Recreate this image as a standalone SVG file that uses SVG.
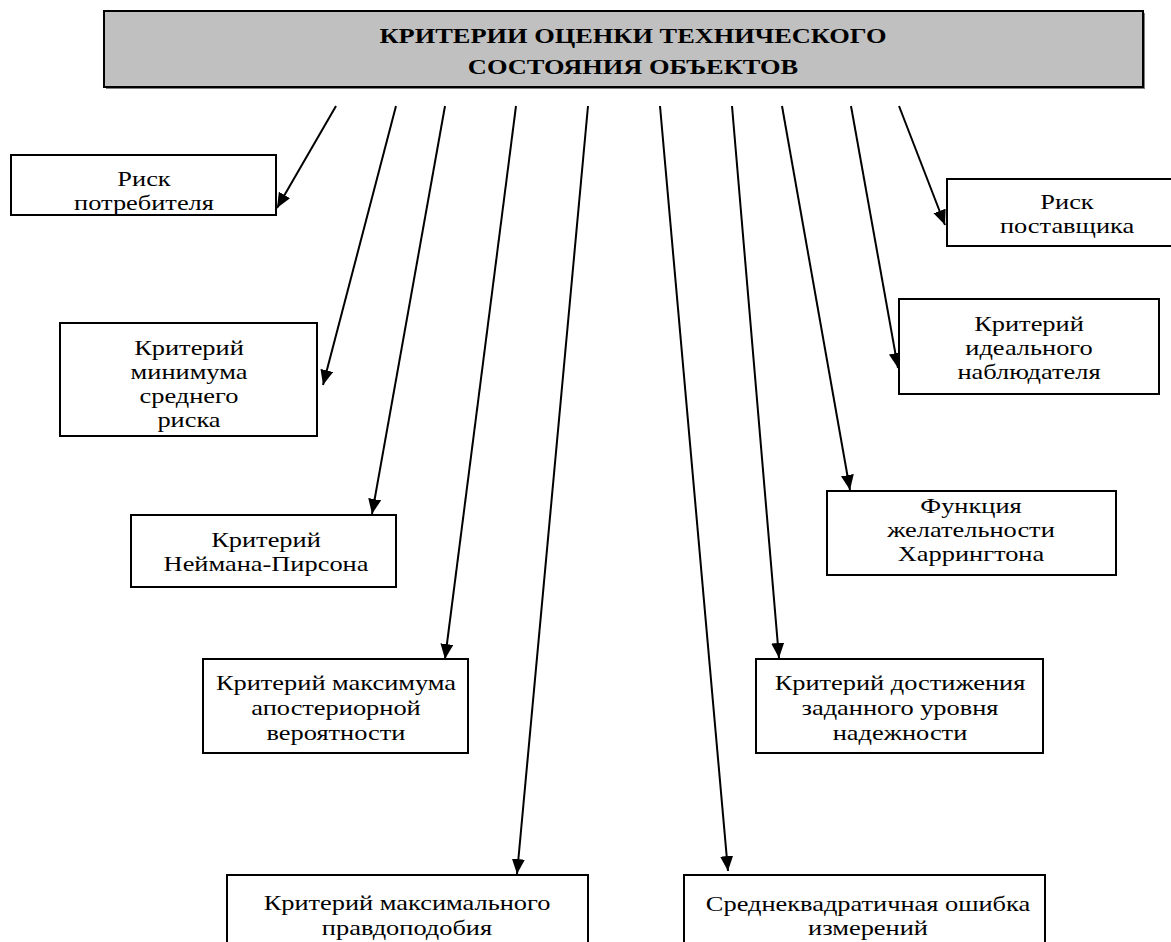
<svg xmlns="http://www.w3.org/2000/svg" width="1171" height="942" viewBox="0 0 1171 942">
<style>
.box{fill:#fff;stroke:#000;stroke-width:2}
.t{font-family:"Liberation Serif","Times New Roman",serif;font-size:22px;fill:#000;text-anchor:middle}
.h{font-family:"Liberation Serif","Times New Roman",serif;font-size:22px;font-weight:bold;fill:#000;text-anchor:middle}
.c{stroke:#000;stroke-width:2;fill:none;marker-end:url(#ah)}
</style>
<defs>
<marker id="ah" markerUnits="userSpaceOnUse" markerWidth="16" markerHeight="14" refX="15" refY="6.5" orient="auto">
<path d="M0,0 L15,6.5 L0,13 z" fill="#000"/>
</marker>
</defs>
<rect width="1171" height="942" fill="#fff"/>

<g id="header">
<rect x="106" y="13" width="1039" height="76" fill="#808080"/>
<rect x="104" y="11" width="1039" height="76" fill="#c0c0c0" stroke="#000" stroke-width="2"/>
<g transform="translate(633 0) scale(1.2 1)">
<text class="h" x="0" y="43">КРИТЕРИИ ОЦЕНКИ ТЕХНИЧЕСКОГО</text>
<text class="h" x="0" y="74">СОСТОЯНИЯ ОБЪЕКТОВ</text>
</g>
</g>

<g id="connectors">
<line class="c" x1="336" y1="106" x2="277" y2="208"/>
<line class="c" x1="396" y1="106" x2="323" y2="385"/>
<line class="c" x1="445" y1="106" x2="372" y2="514"/>
<line class="c" x1="516" y1="106" x2="445" y2="659"/>
<line class="c" x1="588" y1="106" x2="517" y2="874"/>
<line class="c" x1="660" y1="106" x2="728" y2="871"/>
<line class="c" x1="732" y1="106" x2="779" y2="658"/>
<line class="c" x1="782" y1="106" x2="850" y2="490"/>
<line class="c" x1="851" y1="106" x2="898" y2="368"/>
<line class="c" x1="899" y1="106" x2="945" y2="225"/>
</g>

<g id="risk-consumer">
<rect class="box" x="11" y="155" width="265" height="60"/>
<g transform="translate(144 0) scale(1.2 1)">
<text class="t" x="0" y="186">Риск</text>
<text class="t" x="0" y="210">потребителя</text>
</g>
</g>

<g id="min-avg-risk">
<rect class="box" x="60" y="323" width="257" height="113"/>
<g transform="translate(189 0) scale(1.2 1)">
<text class="t" x="0" y="355">Критерий</text>
<text class="t" x="0" y="379">минимума</text>
<text class="t" x="0" y="403">среднего</text>
<text class="t" x="0" y="427">риска</text>
</g>
</g>

<g id="neyman-pearson">
<rect class="box" x="131" y="515" width="265" height="72"/>
<g transform="translate(266 0) scale(1.2 1)">
<text class="t" x="0" y="547">Критерий</text>
<text class="t" x="0" y="571">Неймана-Пирсона</text>
</g>
</g>

<g id="max-aposteriori">
<rect class="box" x="203" y="659" width="265" height="94"/>
<g transform="translate(336 0) scale(1.2 1)">
<text class="t" x="0" y="690">Критерий максимума</text>
<text class="t" x="0" y="715">апостериорной</text>
<text class="t" x="0" y="740">вероятности</text>
</g>
</g>

<g id="max-likelihood">
<rect class="box" x="227" y="875" width="361" height="80"/>
<g transform="translate(407 0) scale(1.2 1)">
<text class="t" x="0" y="910">Критерий максимального</text>
<text class="t" x="0" y="935">правдоподобия</text>
</g>
</g>

<g id="rms-error">
<rect class="box" x="684" y="875" width="361" height="80"/>
<g transform="translate(868 0) scale(1.2 1)">
<text class="t" x="0" y="911">Среднеквадратичная ошибка</text>
<text class="t" x="0" y="935">измерений</text>
</g>
</g>

<g id="reliability-level">
<rect class="box" x="756" y="659" width="287" height="94"/>
<g transform="translate(900 0) scale(1.2 1)">
<text class="t" x="0" y="690">Критерий достижения</text>
<text class="t" x="0" y="715">заданного уровня</text>
<text class="t" x="0" y="740">надежности</text>
</g>
</g>

<g id="harrington">
<rect class="box" x="827" y="491" width="289" height="84"/>
<g transform="translate(971 0) scale(1.2 1)">
<text class="t" x="0" y="513">Функция</text>
<text class="t" x="0" y="537">желательности</text>
<text class="t" x="0" y="561">Харрингтона</text>
</g>
</g>

<g id="ideal-observer">
<rect class="box" x="899" y="299" width="260" height="95"/>
<g transform="translate(1029 0) scale(1.2 1)">
<text class="t" x="0" y="331">Критерий</text>
<text class="t" x="0" y="355">идеального</text>
<text class="t" x="0" y="379">наблюдателя</text>
</g>
</g>

<g id="risk-supplier">
<rect class="box" x="947" y="179" width="250" height="67"/>
<g transform="translate(1067 0) scale(1.2 1)">
<text class="t" x="0" y="209">Риск</text>
<text class="t" x="0" y="233">поставщика</text>
</g>
</g>
</svg>
